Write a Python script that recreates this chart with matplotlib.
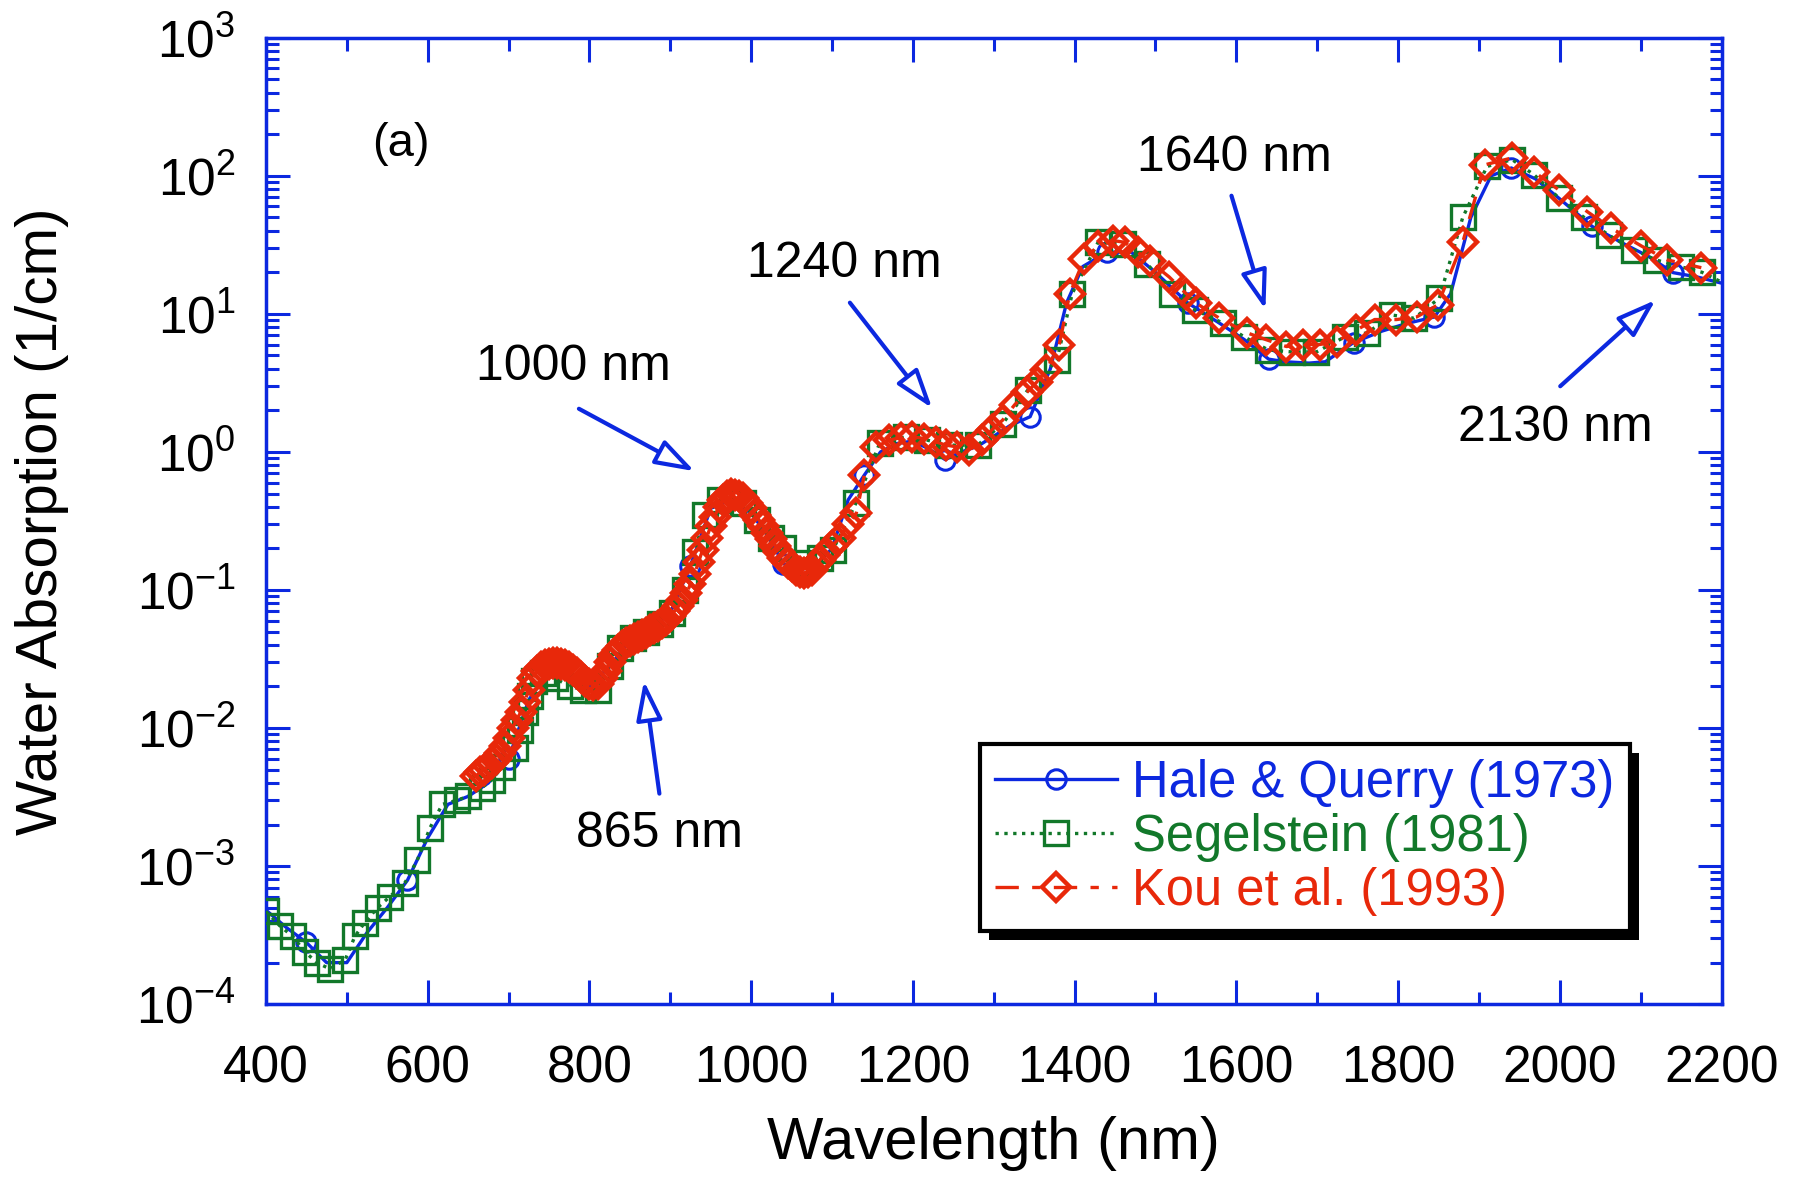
import matplotlib
matplotlib.use("Agg")
import matplotlib.pyplot as plt
from matplotlib.patches import Rectangle
from matplotlib.ticker import MultipleLocator, LogLocator

plt.rcParams['font.family'] = ['Liberation Sans', 'DejaVu Sans']
plt.rcParams['mathtext.fontset'] = 'custom'
plt.rcParams['mathtext.rm'] = 'Liberation Sans'
plt.rcParams['mathtext.it'] = 'Liberation Sans:italic'

# Hale & Querry (1973)
hq_wl = [400, 425, 450, 475, 500, 525, 550, 575, 600, 625, 650, 675, 700, 725,
         750, 775, 800, 825, 850, 875, 900, 925, 950, 975, 1000, 1020, 1040,
         1060, 1080, 1100, 1120, 1140, 1160, 1180, 1200, 1220, 1240, 1260, 1280,
         1300, 1320, 1345, 1370, 1390, 1410, 1440, 1470, 1500, 1540, 1580, 1610,
         1640, 1660, 1690, 1710, 1745, 1780, 1810, 1845, 1865, 1890, 1915, 1940,
         1970, 2000, 2040, 2080, 2110, 2140, 2170, 2200]
hq_abs = [4.8e-4, 3.6e-4, 2.8e-4, 2.0e-4, 2.0e-4, 3.3e-4, 5.0e-4, 7.9e-4, 1.6e-3,
          2.8e-3, 3.2e-3, 4.0e-3, 6.0e-3, 1.6e-2, 2.6e-2, 2.4e-2, 2.0e-2, 2.8e-2,
          4.3e-2, 5.2e-2, 6.8e-2, 0.15, 0.39, 0.45, 0.36, 0.25, 0.155, 0.14, 0.15,
          0.2, 0.45, 0.68, 1.0, 1.15, 1.2, 1.05, 0.88, 1.0, 1.1, 1.3, 1.55, 1.8,
          4.0, 12, 22, 28, 28, 20, 12, 8.5, 6.5, 4.7, 4.5, 4.4, 4.5, 6.2, 7.5,
          8.5, 9.5, 14, 50, 100, 114, 95, 68, 43, 32, 26, 19.9, 18.5, 16.7]
hq_marks = [2, 7, 12, 21, 26, 31, 36, 41, 45, 48, 51, 55, 58, 62, 65, 68]

# Segelstein (1981)
seg_wl = [400, 417, 433, 448, 463, 479, 498, 510, 522, 538, 553, 572, 587, 603,
          618, 636, 650, 667, 679, 692, 708, 714, 720, 727, 731, 742, 757, 776,
          792, 810, 825, 838, 854, 870, 887, 902, 918, 930, 943, 961, 990, 1007,
          1025, 1039, 1064, 1085, 1101, 1130, 1159, 1192, 1217, 1245, 1280, 1311,
          1342, 1378, 1397, 1429, 1460, 1490, 1520, 1549, 1583, 1610, 1639, 1669,
          1699, 1734, 1762, 1793, 1820, 1851, 1880, 1910, 1941, 1968, 1999, 2030,
          2061, 2092, 2119, 2150, 2176, 2200]
seg_abs = [4.7e-4, 3.7e-4, 3.1e-4, 2.4e-4, 2.0e-4, 1.8e-4, 2.1e-4, 3.1e-4, 3.9e-4,
           5.0e-4, 6.0e-4, 7.6e-4, 1.1e-3, 1.9e-3, 2.8e-3, 3.0e-3, 3.2e-3, 3.7e-3,
           4.2e-3, 5.2e-3, 7.2e-3, 9.7e-3, 1.3e-2, 1.7e-2, 2.2e-2, 2.5e-2, 2.3e-2,
           2.0e-2, 1.9e-2, 1.9e-2, 2.8e-2, 3.8e-2, 4.5e-2, 5.0e-2, 5.7e-2, 6.8e-2,
           0.1, 0.19, 0.35, 0.45, 0.43, 0.32, 0.24, 0.2, 0.156, 0.17, 0.195, 0.43,
           1.16, 1.29, 1.22, 1.12, 1.12, 1.6, 2.8, 4.6, 14, 33, 32, 23, 14, 10.7,
           8.6, 6.8, 5.5, 5.3, 5.3, 6.8, 7.3, 9.8, 9.3, 13, 50, 117, 131, 102, 69,
           50, 37, 29, 24.6, 21.9, 20, 17]
seg_marks = list(range(len(seg_wl) - 1))

# Kou et al. (1993)
kou_wl = [660, 665, 670, 675, 680, 685, 690, 695, 700, 705, 710, 715, 720, 725,
          730, 735, 740, 745, 750, 755, 760, 765, 770, 775, 780, 785, 790, 795,
          800, 805, 810, 815, 820, 825, 830, 835, 840, 845, 850, 855, 860, 865,
          870, 875, 880, 885, 890, 895, 900, 905, 910, 915, 920, 925, 930, 935,
          940, 945, 950, 955, 960, 965, 970, 975, 980, 985, 990, 995, 1000, 1005,
          1010, 1015, 1020, 1025, 1030, 1035, 1040, 1045, 1050, 1055, 1060, 1065,
          1070, 1075, 1080, 1085, 1090, 1100, 1110, 1120, 1130, 1140, 1155, 1171,
          1185, 1199, 1214, 1229, 1241, 1254, 1270, 1286, 1298, 1311, 1326, 1341,
          1353, 1365, 1381, 1394, 1412, 1429, 1447, 1462, 1478, 1493, 1517, 1538,
          1550, 1579, 1613, 1637, 1662, 1682, 1703, 1724, 1748, 1771, 1798, 1823,
          1849, 1880, 1907, 1941, 1968, 1999, 2034, 2063, 2101, 2133, 2175]
kou_abs = [4.5e-3, 4.8e-3, 5.0e-3, 5.3e-3, 5.6e-3, 6.0e-3, 6.6e-3, 7.4e-3, 8.5e-3,
           1.0e-2, 1.15e-2, 1.3e-2, 1.55e-2, 1.9e-2, 2.3e-2, 2.6e-2, 2.75e-2,
           2.85e-2, 2.9e-2, 2.95e-2, 2.95e-2, 2.9e-2, 2.85e-2, 2.75e-2, 2.65e-2,
           2.5e-2, 2.35e-2, 2.2e-2, 2.1e-2, 2.05e-2, 2.1e-2, 2.3e-2, 2.6e-2,
           3.0e-2, 3.4e-2, 3.7e-2, 3.9e-2, 4.1e-2, 4.3e-2, 4.45e-2, 4.6e-2,
           4.75e-2, 4.9e-2, 5.1e-2, 5.3e-2, 5.5e-2, 5.8e-2, 6.1e-2, 6.5e-2,
           7.0e-2, 7.6e-2, 8.4e-2, 9.5e-2, 0.11, 0.13, 0.16, 0.195, 0.24, 0.29,
           0.34, 0.40, 0.45, 0.48, 0.50, 0.49, 0.48, 0.46, 0.43, 0.39, 0.35, 0.32,
           0.29, 0.26, 0.235, 0.21, 0.19, 0.17, 0.158, 0.148, 0.14, 0.135, 0.133,
           0.135, 0.14, 0.155, 0.165, 0.18, 0.21, 0.24, 0.30, 0.36, 0.68, 1.09,
           1.22, 1.27, 1.29, 1.25, 1.18, 1.12, 1.09, 1.03, 1.22, 1.45, 1.7, 2.2,
           2.7, 3.2, 3.9, 6.0, 14, 25, 31, 34, 33, 28, 24, 18.5, 14, 12, 9.3, 7.3,
           6.5, 5.8, 6.0, 6.0, 6.3, 7.6, 9.1, 9.1, 9.5, 11.6, 33, 120, 135, 107,
           79, 55, 42, 31, 24.6, 21.6]

# annotations: label, text position, arrow tail, arrow head
notes = [("1000 nm", (780, 4.1), (784, 2.1), (933, 0.71)),
         ("1240 nm", (1115, 23), (1120, 12.5), (1226, 2.0)),
         ("1640 nm", (1597, 134), (1593, 75), (1637, 10.3)),
         ("865 nm", (886, 1.7e-3), (887, 3.2e-3), (867, 0.023)),
         ("2130 nm", (1995, 1.5), (1998, 2.9), (2121, 13))]

blue = '#0c28e0'
green = '#12782a'
red = '#e8280a'

fig = plt.figure(figsize=(17.97, 11.8), dpi=100)
ax = fig.add_axes([0.148, 0.149, 0.81, 0.819])

ax.plot(hq_wl, hq_abs, color=blue, lw=2.4, marker='o', markersize=14,
        mfc='none', mec=blue, mew=2.2, markevery=hq_marks,
        label='Hale & Querry (1973)', zorder=3)
ax.plot(seg_wl, seg_abs, color=green, lw=2.4, ls=':', marker='s', markersize=17,
        mfc='none', mec=green, mew=2.4, markevery=seg_marks,
        label='Segelstein (1981)', zorder=4)
ax.plot(kou_wl, kou_abs, color=red, lw=2.4, dashes=[7, 4, 2.5, 4], marker='D',
        markersize=14, mfc='none', mec=red, mew=3.2,
        label='Kou et al. (1993)', zorder=5)

ax.set_yscale('log')
ax.set_xlim(400, 2200)
ax.set_ylim(1e-4, 1e3)
ax.xaxis.set_major_locator(MultipleLocator(200))
ax.xaxis.set_minor_locator(MultipleLocator(100))
ax.yaxis.set_major_locator(LogLocator(base=10, numticks=20))
ax.yaxis.set_minor_locator(LogLocator(base=10, subs=range(2, 10), numticks=20))

for sp in ax.spines.values():
    sp.set_color(blue)
    sp.set_linewidth(2.5)
ax.tick_params(which='both', direction='in', top=True, right=True, color=blue,
               width=2.2, labelsize=37)
ax.tick_params(which='major', length=17)
ax.tick_params(which='minor', length=9)
ax.tick_params(axis='x', which='major', pad=29)
ax.tick_params(axis='y', which='major', pad=22)

ax.set_xlabel('Wavelength (nm)', fontsize=43, labelpad=16)
ax.set_ylabel('Water Absorption (1/cm)', fontsize=42, labelpad=48)

ax.text(567, 170, '(a)', fontsize=34, ha='center', va='center')
for label, tpos, tail, head in notes:
    ax.text(tpos[0], tpos[1], label, fontsize=36, ha='center', va='center')
    ax.annotate('', xy=head, xytext=tail,
                arrowprops=dict(arrowstyle='-|>,head_length=2.4,head_width=0.8',
                                color=blue, fc='white', lw=3))

leg = ax.legend(loc='lower right', bbox_to_anchor=(0.937, 0.0756),
                borderaxespad=0, fontsize=36.5, handlelength=2.4,
                handletextpad=0.3, labelspacing=0.1, fancybox=False,
                edgecolor='black', framealpha=1, borderpad=0.3)
leg.get_frame().set_linewidth(3)
for txt, c in zip(leg.get_texts(), [blue, green, red]):
    txt.set_color(c)

# black drop shadow behind the legend box
fig.canvas.draw()
bb = leg.get_window_extent()
ax.add_patch(Rectangle((bb.x0 + 9, bb.y0 - 9), bb.width, bb.height,
                       transform=None, facecolor='black', edgecolor='none',
                       zorder=4.9, clip_on=False))

fig.savefig('out.png', dpi=100)
